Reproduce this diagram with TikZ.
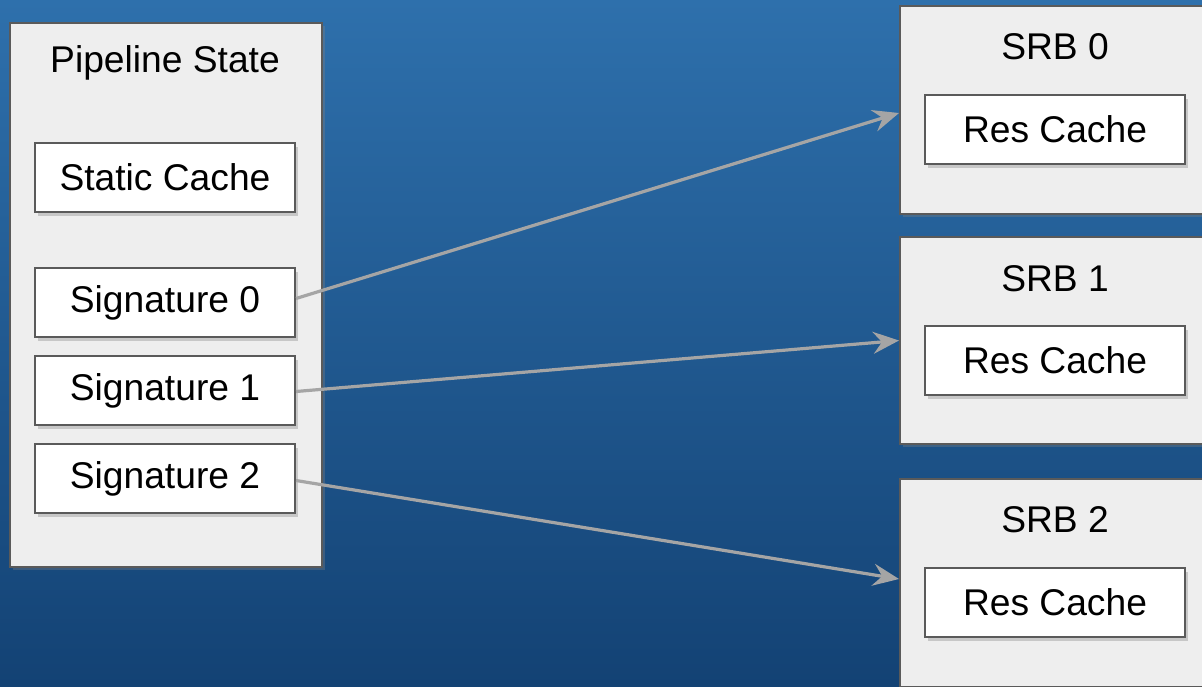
\documentclass[tikz,border=0pt]{standalone}
\usepackage{fontspec}
\setmainfont{Liberation Sans}
\usepackage{tikz}
\usepackage{xcolor}
\usetikzlibrary{shapes, positioning, shadows, arrows.meta}

\definecolor{bgtop}{RGB}{46,112,172}
\definecolor{bgbottom}{RGB}{19,66,116}
\definecolor{panelfill}{RGB}{238,238,238}
\definecolor{edgegray}{RGB}{90,90,90}
\definecolor{linkgray}{RGB}{165,165,165}

\tikzset{
    panel/.style={rectangle, draw=edgegray, line width=1pt, fill=panelfill,
        inner sep=0pt, anchor=north west,
        drop shadow={shadow xshift=1.5pt, shadow yshift=-1.5pt, opacity=.35}},
    cachebox/.style={rectangle, draw=edgegray, line width=1pt, fill=white,
        minimum width=130pt, minimum height=34.5pt, inner sep=0pt,
        font=\fontsize{18.6}{22}\selectfont,
        drop shadow={shadow xshift=1.5pt, shadow yshift=-2pt, opacity=.35}},
    title/.style={font=\fontsize{18.6}{22}\selectfont, inner sep=0pt},
    link/.style={draw=linkgray, line width=1.6pt,
        -{Stealth[length=13pt, width=11pt, inset=4.5pt]}}
}

\begin{document}
\begin{tikzpicture}[x=0.5pt, y=-0.5pt]
    \clip (0,0) rectangle (1202,686);
    \useasboundingbox (0,0) rectangle (1202,686);
    \shade[top color=bgtop, bottom color=bgbottom] (0,0) rectangle (1202,686);

    % left side
    \node[panel, minimum width=156pt, minimum height=272pt] (pso) at (9, 22) {};
    \node[title] (psotitle) at (165, 63) {Pipeline State};
    \node[cachebox] (static) at (165, 177.5) {Static Cache};
    \node[cachebox] (sig0) at (165, 302.5) {Signature 0};
    \node[cachebox] (sig1) at (165, 390.5) {Signature 1};
    \node[cachebox] (sig2) at (165, 478.5) {Signature 2};

    % right side
    \node[panel, minimum width=160pt, minimum height=104pt] (srb0) at (899, 5) {};
    \node[title] (srb0title) at (1055, 47) {SRB 0};
    \node[cachebox] (res0) at (1055, 129.5) {Res Cache};

    \node[panel, minimum width=160pt, minimum height=103.5pt] (srb1) at (899, 236) {};
    \node[title] (srb1title) at (1055, 279) {SRB 1};
    \node[cachebox] (res1) at (1055, 360.5) {Res Cache};

    \node[panel, minimum width=160pt, minimum height=104pt] (srb2) at (899, 478) {};
    \node[title] (srb2title) at (1055, 520) {SRB 2};
    \node[cachebox] (res2) at (1055, 602.5) {Res Cache};

    \draw[link] ([yshift=2pt]sig0.east) to ([yshift=-1.5pt]srb0.west);
    \draw[link] ([yshift=-0.5pt]sig1.east) to (srb1.west);
    \draw[link] ([yshift=-1pt]sig2.east) to ([yshift=2pt]srb2.west);
\end{tikzpicture}
\end{document}
